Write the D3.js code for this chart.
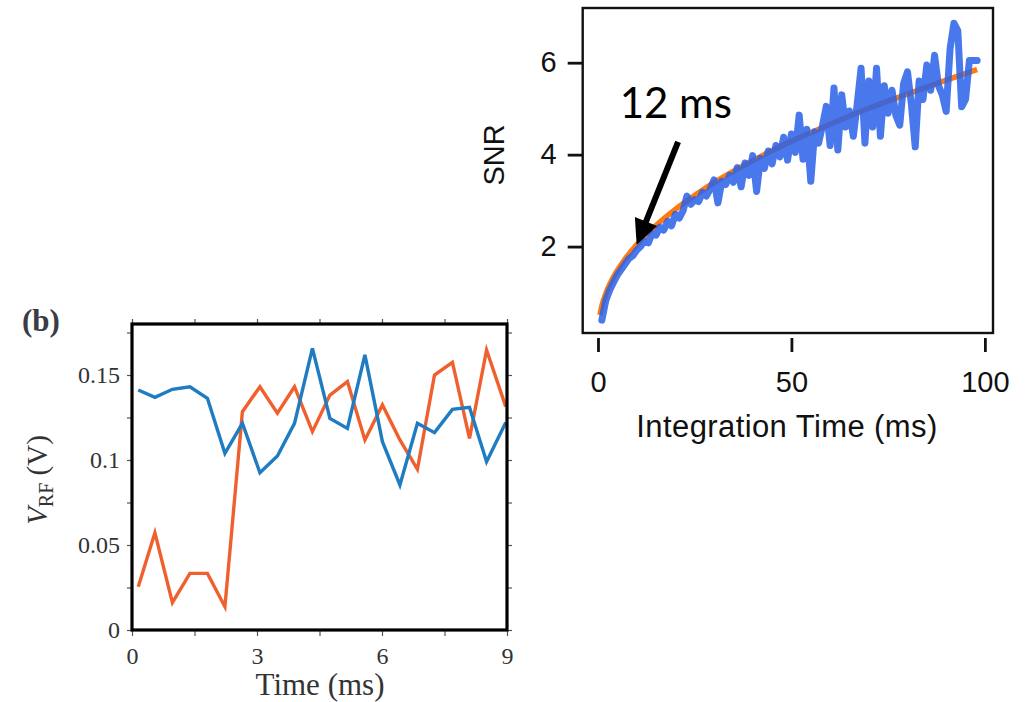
<!DOCTYPE html>
<html><head><meta charset="utf-8">
<script src="https://cdn.jsdelivr.net/npm/d3@7"></script>
<style>body{margin:0;background:#fff}</style>
</head><body>
<svg id="c" width="1026" height="702"></svg>
<script>
// ---------- Panel (a): SNR vs integration time ----------
const snrTime = [1,2,3,4,5,6,7,8,9,10,11,12,13,14,15,16,17,18,19,20,21,22,23,24,25,26,27,28,29,30,31,32,33,34,35,36,37,38,39,40,41,42,43,44,45,46,47,48,49,50,51,52,53,54,55,56,57,58,59,60,61,62,63,64,65,66,67,68,69,70,71,72,73,74,75,76,77,78,79,80,81,82,83,84,85,86,87,88,89,90,91,92,93,94,95,96,97,98];
const snrMeasured = [0.40,0.82,1.05,1.22,1.38,1.50,1.62,1.74,1.80,1.92,2.00,2.12,2.08,2.28,2.25,2.42,2.36,2.55,2.45,2.70,2.62,2.78,3.10,2.92,3.02,2.98,3.18,3.10,3.25,3.45,2.95,3.42,3.35,3.55,3.40,3.72,3.30,3.82,3.55,3.98,3.20,3.92,3.70,4.08,3.80,4.20,3.95,4.38,3.88,4.45,4.05,4.86,3.90,4.55,3.42,4.50,4.25,4.62,5.05,4.20,5.45,4.10,5.30,4.60,4.95,4.40,5.10,5.88,4.25,5.60,4.60,5.88,4.40,5.50,4.90,5.40,4.85,4.64,5.55,5.80,5.10,4.17,5.60,5.20,5.95,5.40,6.16,5.50,5.30,4.94,6.30,6.86,6.70,5.04,5.20,6.05,6.05,6.05];
const fitTime = [0.5,1,2,3,5,7,10,15,20,25,30,40,50,60,70,80,90,98];
const fitSNR  = [0.51,0.71,0.97,1.17,1.48,1.73,2.04,2.46,2.81,3.11,3.39,3.87,4.29,4.66,5.01,5.32,5.62,5.85];
const snrXTicks = [0,50,100];
const snrYTicks = [2,4,6];
const arrowFrom = [20.7, 4.28];
const arrowTo = [10, 2.04];
const arrowLabel = "12 ms";
const arrowLabelPos = [5.6, 4.80];

// ---------- Panel (b): V_RF vs time ----------
const vrfTime = [0.15,0.55,0.97,1.39,1.81,2.23,2.65,3.07,3.49,3.90,4.33,4.75,5.17,5.59,6.01,6.43,6.85,7.26,7.69,8.10,8.51,8.97];
const vrfOrange = [0.0255,0.0572,0.0161,0.0333,0.0333,0.0137,0.1284,0.1431,0.1275,0.1431,0.1167,0.1382,0.1461,0.1118,0.1324,0.1118,0.0945,0.1500,0.1575,0.1127,0.1647,0.1314];
const vrfBlue   = [0.1412,0.1369,0.1416,0.1431,0.1363,0.1039,0.1216,0.0925,0.1024,0.1216,0.1657,0.1245,0.1186,0.1618,0.1108,0.0853,0.1216,0.1161,0.1298,0.1310,0.0990,0.1220];
const vrfXTicks = [0,1.5,3,4.5,6,7.5,9];
const vrfXLabels = [0,3,6,9];
const vrfYTicks = [0,0.025,0.05,0.075,0.1,0.125,0.15,0.175];
const vrfYLabels = [0,0.05,0.1,0.15];

const svg = d3.select("#c");
svg.append("rect").attr("width",1026).attr("height",702).attr("fill","#fff");

// ===== Panel (a) =====
const xA = d3.scaleLinear().domain([-3.95, 102.1]).range([582.7, 993]);
const yA = d3.scaleLinear().domain([0.12, 7.19]).range([333, 8]);
const gA = svg.append("g");
const lineA = d3.line().x(d=>xA(d[0])).y(d=>yA(d[1]));

gA.append("path").datum(fitTime.map((t,i)=>[t,fitSNR[i]]))
  .attr("d", d3.line().x(d=>xA(d[0])).y(d=>yA(d[1])).curve(d3.curveMonotoneX))
  .attr("fill","none").attr("stroke","#ff7a10").attr("stroke-width",5.5);
gA.append("path").datum(snrTime.map((t,i)=>[t,snrMeasured[i]]))
  .attr("d", lineA)
  .attr("fill","none").attr("stroke","#2a62e8").attr("stroke-opacity",0.86)
  .attr("stroke-width",7).attr("stroke-linejoin","round").attr("stroke-linecap","round");

gA.append("rect").attr("x",xA.range()[0]).attr("y",yA.range()[1])
  .attr("width",xA.range()[1]-xA.range()[0]).attr("height",yA.range()[0]-yA.range()[1])
  .attr("fill","none").attr("stroke","#111").attr("stroke-width",2.4);

const sans = "'Liberation Sans', Arial, sans-serif";
const axA_x = gA.append("g").attr("transform","translate(0,338)")
  .call(d3.axisBottom(xA).tickValues(snrXTicks).tickSize(14).tickPadding(19).tickFormat(d3.format("d")));
const axA_y = gA.append("g").attr("transform",`translate(${xA.range()[0]},0)`)
  .call(d3.axisLeft(yA).tickValues(snrYTicks).tickSize(15).tickPadding(11).tickFormat(d3.format("d")));
[axA_x, axA_y].forEach(a=>{
  a.select(".domain").remove();
  a.selectAll(".tick line").attr("stroke","#111").attr("stroke-width",2.8);
  a.selectAll(".tick text").attr("fill","#111").style("font-family",sans).style("font-size","29px");
});
gA.append("text").attr("x",787).attr("y",437).attr("text-anchor","middle")
  .style("font-family",sans).style("font-size","31px").style("letter-spacing","0.4px").attr("fill","#111")
  .text("Integration Time (ms)");
gA.append("text").attr("transform","translate(504,155) rotate(-90)").attr("text-anchor","middle")
  .style("font-family",sans).style("font-size","29px").attr("fill","#111")
  .text("SNR");

// arrow
{
  const x1=xA(arrowFrom[0]), y1=yA(arrowFrom[1]), x2=xA(arrowTo[0]), y2=yA(arrowTo[1]);
  const dx=x2-x1, dy=y2-y1, L=Math.hypot(dx,dy), ux=dx/L, uy=dy/L;
  const hl=25, hw=12;
  const bx=x2-ux*hl, by=y2-uy*hl;
  gA.append("line").attr("x1",x1).attr("y1",y1).attr("x2",bx+ux*2).attr("y2",by+uy*2)
    .attr("stroke","#000").attr("stroke-width",6);
  gA.append("path").attr("d",`M${x2},${y2}L${bx-uy*hw},${by+ux*hw}L${bx+uy*hw},${by-ux*hw}Z`).attr("fill","#000");
  gA.append("text").attr("x",xA(arrowLabelPos[0])).attr("y",yA(arrowLabelPos[1]))
    .style("font-family","Lato, 'Open Sans', sans-serif").style("font-size","42px").attr("fill","#000")
    .text(arrowLabel);
}

// ===== Panel (b) =====
const xB = d3.scaleLinear().domain([0,9]).range([132,507]);
const yB = d3.scaleLinear().domain([0,0.18]).range([630,324]);
const gB = svg.append("g");
const lineB = d3.line().x(d=>xB(d[0])).y(d=>yB(d[1]));
gB.append("path").datum(vrfTime.map((t,i)=>[t,vrfOrange[i]])).attr("d",lineB)
  .attr("fill","none").attr("stroke","#f0602f").attr("stroke-width",3.4).attr("stroke-linejoin","miter");
gB.append("path").datum(vrfTime.map((t,i)=>[t,vrfBlue[i]])).attr("d",lineB)
  .attr("fill","none").attr("stroke","#1f7bc2").attr("stroke-width",3.4).attr("stroke-linejoin","miter");

const serif = "'Liberation Serif', 'Times New Roman', serif";
const fmtB = d => vrfYLabels.includes(d) ? String(d) : "";
const fmtBx = d => vrfXLabels.includes(d) ? String(d) : "";
const bAxes = [
  gB.append("g").attr("transform","translate(0,631)").call(d3.axisBottom(xB).tickValues(vrfXTicks).tickSize(5).tickPadding(11).tickFormat(fmtBx)),
  gB.append("g").attr("transform","translate(0,324)").call(d3.axisTop(xB).tickValues(vrfXTicks).tickSize(5).tickFormat("")),
  gB.append("g").attr("transform","translate(132,0)").call(d3.axisLeft(yB).tickValues(vrfYTicks).tickSize(5).tickPadding(7).tickFormat(fmtB)),
  gB.append("g").attr("transform","translate(507,0)").call(d3.axisRight(yB).tickValues(vrfYTicks).tickSize(5).tickFormat(""))
];
bAxes.forEach(a=>{
  a.select(".domain").remove();
  a.selectAll(".tick line").attr("stroke","#555").attr("stroke-width",1.2);
  a.selectAll(".tick text").attr("fill","#333").style("font-family",serif).style("font-size","24px");
});
gB.append("rect").attr("x",132).attr("y",324).attr("width",375).attr("height",306)
  .attr("fill","none").attr("stroke","#000").attr("stroke-width",3.2);

gB.append("text").attr("x",320).attr("y",695).attr("text-anchor","middle")
  .style("font-family",serif).style("font-size","31px").attr("fill","#333").text("Time (ms)");
const yl = gB.append("text").attr("transform","translate(47,480) rotate(-90)").attr("text-anchor","middle")
  .style("font-family",serif).style("font-size","29px").attr("fill","#333");
yl.append("tspan").style("font-style","italic").text("V");
yl.append("tspan").attr("dy",6).style("font-size","20px").text("RF");
yl.append("tspan").attr("dy",-6).text(" (V)");

gB.append("text").attr("x",22).attr("y",331)
  .style("font-family",serif).style("font-size","31px").style("font-weight","bold").attr("fill","#3b3b45").text("(b)");
</script>
</body></html>
